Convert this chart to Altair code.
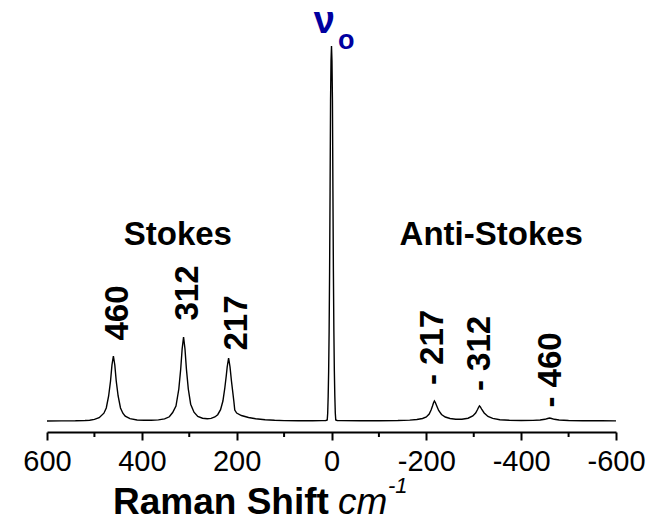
import altair as alt
import pandas as pd

# Raman spectrum (shift in cm^-1, intensity in arbitrary units)
shift = [600, 570, 540, 520, 510, 500, 490, 480, 475, 470, 466, 463, 460, 457, 454, 450, 445, 440,
         435, 425, 410, 395, 380, 365, 352, 342, 335, 328, 322, 318, 315, 312, 309, 306, 302, 297,
         290, 282, 272, 262, 254, 246, 240, 234, 229, 225, 222, 220, 217, 214, 211, 208, 206, 204,
         200, 190, 175, 160, 140, 120, 100, 70, 40, 20, 12, 9, 8, 7, 6, 5, 4, 3, 2, 1, 0,
         -1, -2, -3, -4, -5, -6, -7, -8, -9, -12, -20, -60, -100, -140, -165, -180, -192, -200,
         -206, -210, -213, -215, -217, -219, -222, -226, -232, -240, -250, -262, -275, -288, -298,
         -304, -308, -310, -312, -314, -317, -322, -330, -340, -355, -375, -400, -425, -440, -450,
         -456, -460, -464, -470, -480, -500, -530, -570, -600]
intensity = [0.0, 0.1, 0.2, 0.5, 0.8, 1.6, 3.3, 7.8, 13, 25, 40, 56, 65, 56, 40, 25, 13, 7.8,
             4.9, 2.3, 1.0, 0.8, 0.7, 1.1, 2.1, 4.2, 8.5, 15, 32, 52, 72, 84, 72, 52, 32, 16.8,
             8.8, 4.6, 2.8, 2.3, 2.6, 4.0, 6.3, 11.3, 20, 33, 45, 54, 63, 54, 40, 28, 20, 11,
             8, 5.5, 3.5, 2.3, 1.3, 0.7, 0.4, 0.3, 0.3, 0.4, 0.5, 1, 8, 25, 50, 90, 150, 230, 320, 360, 375,
             360, 320, 230, 150, 90, 50, 25, 8, 1, 0.5, 0.4, 0.3, 0.3, 0.5, 0.9, 1.5, 2.5, 4,
             7, 11, 15, 18, 20, 18.5, 15, 10.5, 6.5, 4, 2.5, 1.8, 1.8, 2.8, 5,
             8, 11.5, 13.5, 15, 14, 11.5, 8, 4.5, 2.6, 1.3, 0.7, 0.5, 0.6, 1, 1.7,
             2.5, 3, 2.5, 1.7, 1, 0.5, 0.3, 0.2, 0.1]

x_ticks = [600, 400, 200, 0, -200, -400, -600]
x_minor_ticks = [500, 300, 100, -100, -300, -500]

peak_labels = ["460", "312", "217", "- 217", "- 312", "- 460"]
peak_label_shift = [450, 303, 200, -214, -313, -462]
peak_label_y = [108, 128, 98, 73.5, 67.5, 51]

region_labels = ["Stokes", "Anti-Stokes"]
region_label_shift = [324, -337]
region_label_y = [186, 186]

nu_text = ["ν"]
nu_shift = [15]
nu_y = [388]
sub_text = ["o"]
sub_shift = [-31]
sub_y = [372]

FONT = "Liberation Sans"
PLOT_H = 422

spec = pd.DataFrame({"shift": shift, "intensity": intensity})
xscale = alt.Scale(domain=[-600, 600], reverse=True, nice=False)
yscale = alt.Scale(domain=[-11, 411], nice=False, zero=False)

line = alt.Chart(spec).mark_line(color="black", strokeWidth=1.4).encode(
    x=alt.X("shift:Q", scale=xscale,
            axis=alt.Axis(values=x_ticks, title=None, tickSize=8, tickWidth=2,
                          domainWidth=2, domainColor="black", tickColor="black",
                          labelFont=FONT, labelFontSize=29, labelColor="black",
                          labelExpr="'' + datum.value",
                          labelPadding=7, grid=False, labelFlush=False)),
    y=alt.Y("intensity:Q", scale=yscale, axis=None),
)

minor_df = pd.DataFrame({"shift": x_minor_ticks})
minor = alt.Chart(minor_df).mark_rule(color="black", strokeWidth=2).encode(
    x=alt.X("shift:Q", scale=xscale),
    y=alt.value(PLOT_H),
    y2=alt.value(PLOT_H + 5),
)

pk = pd.DataFrame({"t": peak_labels, "shift": peak_label_shift, "y": peak_label_y})
peaks = alt.Chart(pk).mark_text(font=FONT, fontSize=33, fontWeight="bold", angle=270,
                                align="center", baseline="middle", color="black").encode(
    x=alt.X("shift:Q", scale=xscale), y=alt.Y("y:Q", scale=yscale), text="t:N")

rg = pd.DataFrame({"t": region_labels, "shift": region_label_shift, "y": region_label_y})
regions = alt.Chart(rg).mark_text(font=FONT, fontSize=33, fontWeight="bold",
                                  align="center", baseline="middle", color="black").encode(
    x=alt.X("shift:Q", scale=xscale), y=alt.Y("y:Q", scale=yscale), text="t:N")

nu_df = pd.DataFrame({"t": nu_text, "shift": nu_shift, "y": nu_y})
nu = alt.Chart(nu_df).mark_text(font=FONT, fontSize=38, fontWeight="bold",
                                align="center", baseline="alphabetic", color="#0000a0").encode(
    x=alt.X("shift:Q", scale=xscale), y=alt.Y("y:Q", scale=yscale), text="t:N")

sub_df = pd.DataFrame({"t": sub_text, "shift": sub_shift, "y": sub_y})
sub = alt.Chart(sub_df).mark_text(font=FONT, fontSize=27, fontWeight="bold",
                                  align="center", baseline="alphabetic", color="#0000a0").encode(
    x=alt.X("shift:Q", scale=xscale), y=alt.Y("y:Q", scale=yscale), text="t:N")

title_df = pd.DataFrame({"a": [0]})
t1 = alt.Chart(title_df).mark_text(font=FONT, fontSize=37, fontWeight="bold", align="left",
                                   baseline="alphabetic", color="black").encode(
    x=alt.value(113 - 47), y=alt.value(514 - 10), text=alt.value("Raman Shift"))
t2 = alt.Chart(title_df).mark_text(font=FONT, fontSize=37, fontStyle="italic", align="left",
                                   baseline="alphabetic", color="black").encode(
    x=alt.value(338 - 47), y=alt.value(514 - 10), text=alt.value("cm"))
t3 = alt.Chart(title_df).mark_text(font=FONT, fontSize=22, fontStyle="italic", align="left",
                                   baseline="alphabetic", color="black").encode(
    x=alt.value(388 - 47), y=alt.value(493 - 10), text=alt.value("-1"))

chart = alt.layer(line, minor, peaks, regions, nu, sub, t1, t2, t3).properties(
    width=569, height=PLOT_H,
    autosize=alt.AutoSizeParams(type="none"),
    padding={"left": 39, "top": 2, "right": 40, "bottom": 87},
).configure_view(strokeWidth=0)

chart.save("out.html", embed_options={"renderer": "svg", "actions": False})
